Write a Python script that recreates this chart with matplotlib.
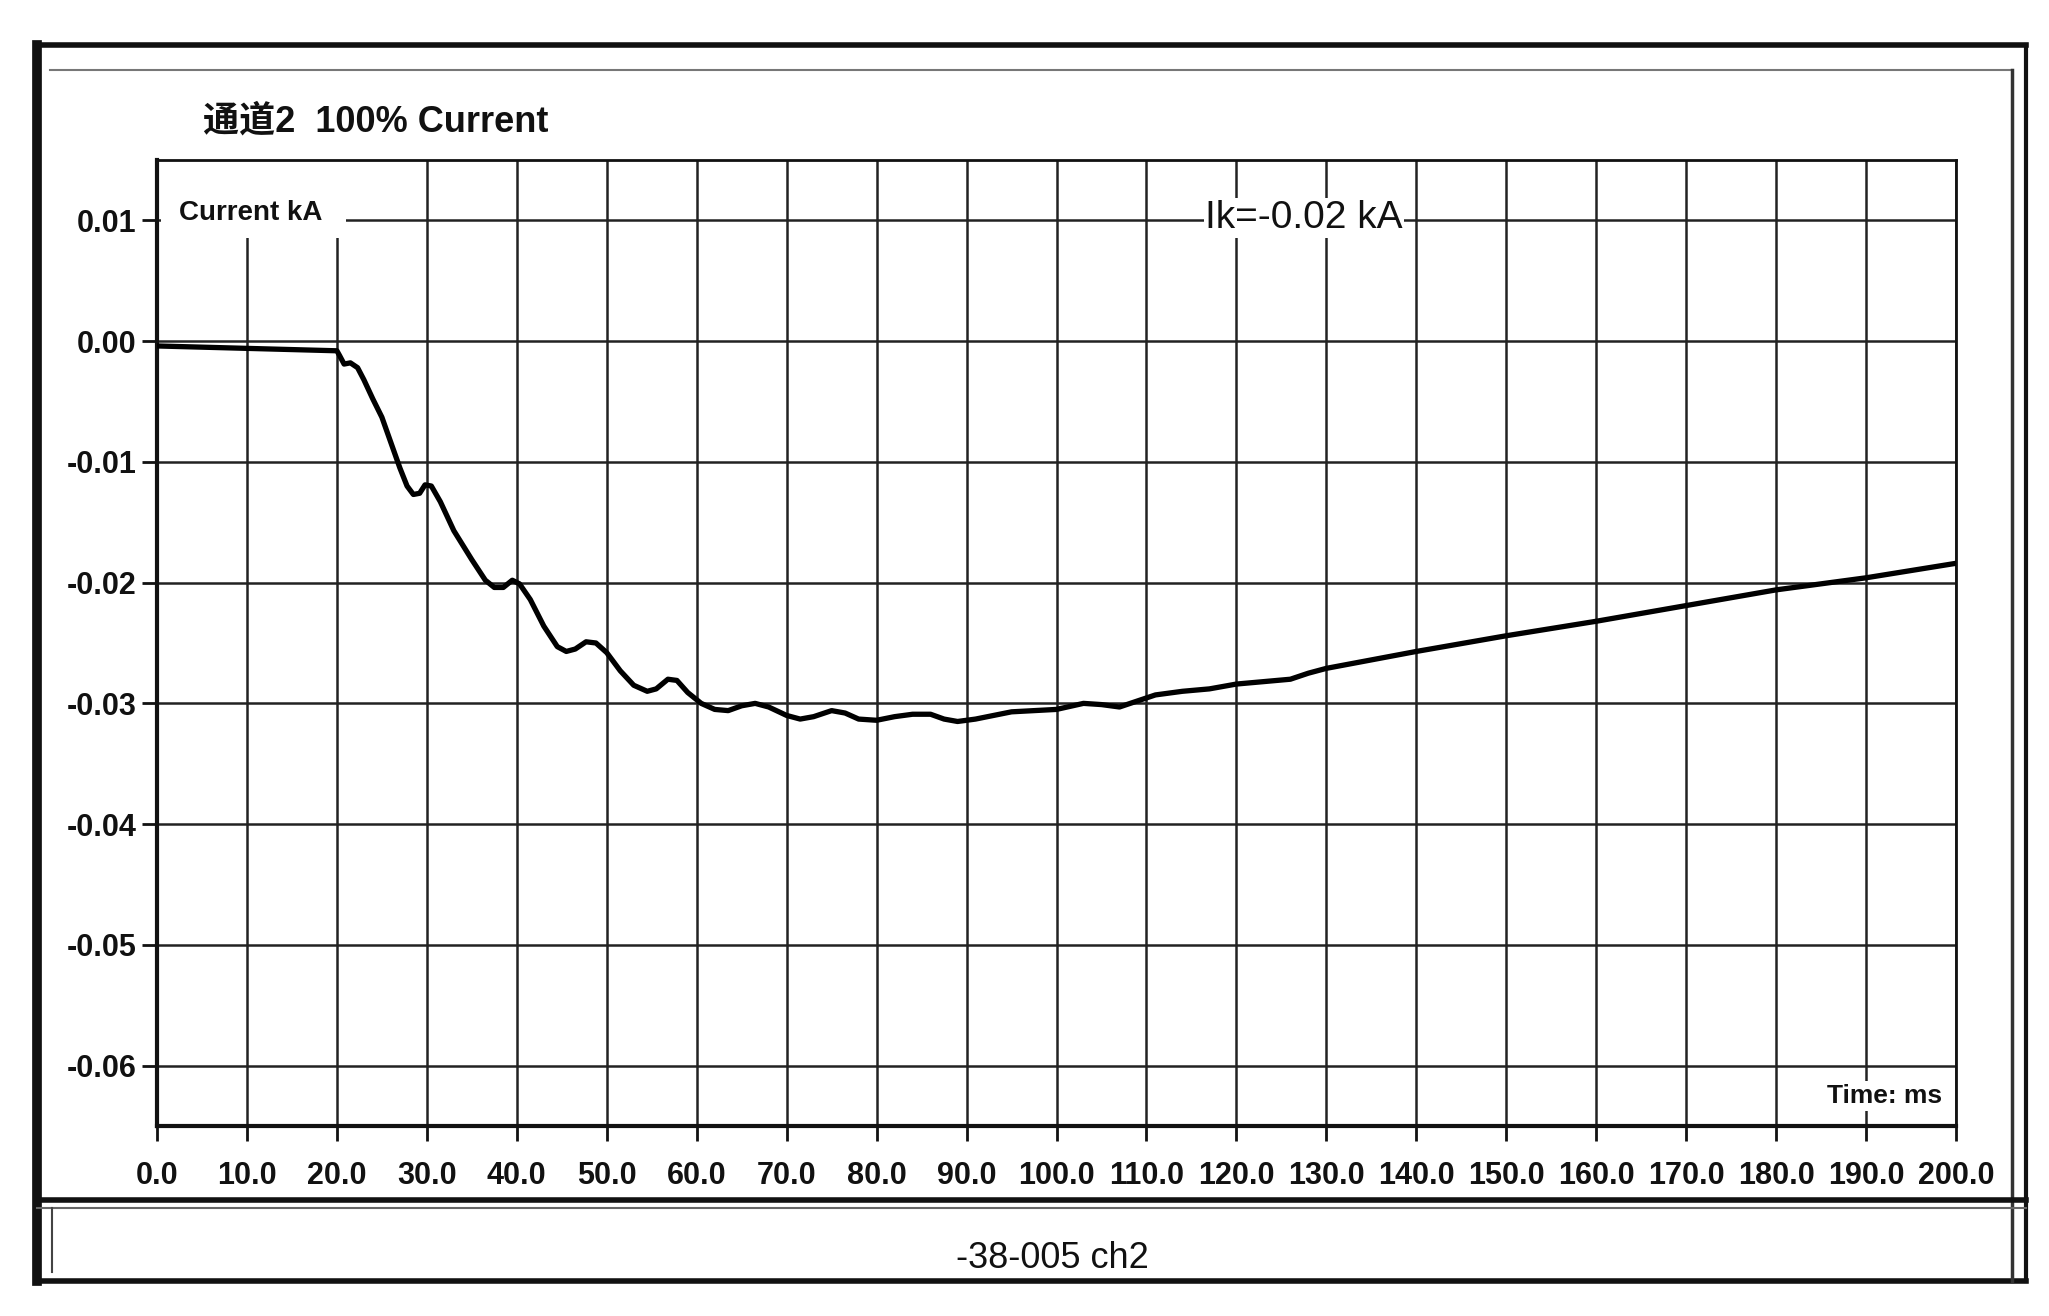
import matplotlib
matplotlib.use("Agg")
import matplotlib.pyplot as plt
from matplotlib.patches import Rectangle
from matplotlib.lines import Line2D

# ---------------- data ----------------
time_ms = [0, 5, 10, 15, 20, 20.3, 20.8, 21.5, 22.3, 23, 24, 25, 26, 27, 27.8, 28.5,
           29.2, 29.8, 30.5, 31.5, 33, 35, 36.5, 37.5, 38.5, 39.5, 40.3, 41.5, 43,
           44.5, 45.5, 46.5, 47.7, 48.8, 50, 51.5, 53, 54.5, 55.5, 56.8, 57.8, 59,
           60.5, 62, 63.5, 65, 66.5, 68, 70, 71.5, 73, 75, 76.5, 78, 80, 82, 84, 86,
           87.5, 89, 91, 95, 100, 103, 105, 107, 109, 111, 114, 117, 120, 123, 126,
           128, 130, 140, 150, 160, 170, 180, 190, 200]
current_ka = [-0.0004, -0.0005, -0.0006, -0.0007, -0.0008, -0.0012, -0.0019, -0.0018,
              -0.0022, -0.0032, -0.0048, -0.0063, -0.0084, -0.0105, -0.0120, -0.0127,
              -0.0126, -0.0119, -0.0120, -0.0133, -0.0157, -0.0181, -0.0198, -0.0204,
              -0.0204, -0.0198, -0.0201, -0.0214, -0.0236, -0.0253, -0.0257, -0.0255,
              -0.0249, -0.0250, -0.0258, -0.0273, -0.0285, -0.0290, -0.0288, -0.0280,
              -0.0281, -0.0291, -0.0300, -0.0305, -0.0306, -0.0302, -0.0300, -0.0303,
              -0.0310, -0.0313, -0.0311, -0.0306, -0.0308, -0.0313, -0.0314, -0.0311,
              -0.0309, -0.0309, -0.0313, -0.0315, -0.0313, -0.0307, -0.0305, -0.0300,
              -0.0301, -0.0303, -0.0298, -0.0293, -0.0290, -0.0288, -0.0284, -0.0282,
              -0.0280, -0.0275, -0.0271, -0.0257, -0.0244, -0.0232, -0.0219, -0.0206,
              -0.0196, -0.0184]

x_ticks = list(range(0, 201, 10))
x_tick_labels = ["0.0", "10.0", "20.0", "30.0", "40.0", "50.0", "60.0", "70.0", "80.0",
                 "90.0", "100.0", "110.0", "120.0", "130.0", "140.0", "150.0", "160.0",
                 "170.0", "180.0", "190.0", "200.0"]
y_ticks = [0.01, 0.0, -0.01, -0.02, -0.03, -0.04, -0.05, -0.06]
y_tick_labels = ["0.01", "0.00", "-0.01", "-0.02", "-0.03", "-0.04", "-0.05", "-0.06"]

title_text = "通道2  100% Current"
y_label_text = "Current kA"
x_label_text = "Time: ms"
cursor_text = "Ik=-0.02 kA"
footer_text = "-38-005 ch2"

# ---------------- layout ----------------
W, H = 2049, 1316
NARROW = ['Liberation Sans Narrow', 'Liberation Sans', 'Noto Sans CJK SC', 'DejaVu Sans']
INK = '#111111'

fig = plt.figure(figsize=(W / 100, H / 100), dpi=100)
fig.patch.set_facecolor('white')

def fx(px):
    return px / W

def fy(py):
    return 1 - py / H

ax_l, ax_r, ax_t, ax_b = 157, 1956, 160, 1126
ax = fig.add_axes([fx(ax_l), fy(ax_b), fx(ax_r - ax_l), (ax_b - ax_t) / H])
ax.set_xlim(0, 200)
ax.set_ylim(-0.065, 0.015)
ax.set_facecolor('white')

ax.set_xticks(x_ticks)
ax.set_xticklabels(x_tick_labels, family=NARROW, fontweight='bold', fontsize=22, color=INK)
ax.set_yticks(y_ticks)
ax.set_yticklabels(y_tick_labels, family=NARROW, fontweight='bold', fontsize=22, color=INK)
ax.tick_params(axis='x', direction='out', length=11, width=2, pad=14, colors=INK)
ax.tick_params(axis='y', direction='out', length=11, width=2, pad=4, colors=INK)

ax.set_axisbelow(True)
ax.grid(True, color='#222222', linewidth=1.8)

for side in ['left', 'bottom']:
    ax.spines[side].set_linewidth(3)
    ax.spines[side].set_color(INK)
for side in ['top', 'right']:
    ax.spines[side].set_linewidth(2)
    ax.spines[side].set_color(INK)

# white patch where the y-axis caption sits (hides grid there)
ax.add_patch(Rectangle((0.4, 0.0085), 20.6, 0.0065, facecolor='white',
                       edgecolor='none', zorder=1))

ax.plot(time_ms, current_ka, color='black', linewidth=3.8, zorder=3,
        solid_joinstyle='round', solid_capstyle='round')

ax.text(2.5, 0.0106, y_label_text, family=NARROW, fontweight='bold', fontsize=20,
        color=INK, ha='left', va='center', zorder=4)
ax.text(127.5, 0.0102, cursor_text, family=NARROW, fontsize=28, color=INK,
        ha='center', va='center', zorder=4,
        bbox=dict(facecolor='white', edgecolor='none', pad=1))
ax.text(198.5, -0.0625, x_label_text, family=NARROW, fontweight='bold', fontsize=19,
        color=INK, ha='right', va='center', zorder=4,
        bbox=dict(facecolor='white', edgecolor='none', pad=2))

# ---------------- window frame ----------------
def fline(x0, y0, x1, y1, lw, color=INK):
    fig.add_artist(Line2D([fx(x0), fx(x1)], [fy(y0), fy(y1)], color=color,
                          linewidth=lw, transform=fig.transFigure))

# outer frame
fline(37, 45, 2026, 45, 4)
fline(37, 45, 37, 1281, 7)
fline(2026, 45, 2026, 1281, 3)
fline(37, 1281, 2026, 1281, 4)
# inner frame lines
fline(50, 70, 2012, 70, 1.5, '#777777')
fline(2012, 70, 2012, 1281, 2.5, '#333333')
# footer box
fline(37, 1200, 2026, 1200, 4)
fline(37, 1208, 2026, 1208, 1.5, '#666666')
fline(52, 1208, 52, 1272, 1.5, '#444444')

fig.text(fx(203), fy(122), title_text, family=NARROW, fontweight='bold', fontsize=26,
         color=INK, ha='left', va='center')
fig.text(fx(1052), fy(1258), footer_text, family=NARROW, fontsize=26,
         color=INK, ha='center', va='center')

fig.savefig('out.png', dpi=100, facecolor='white')
